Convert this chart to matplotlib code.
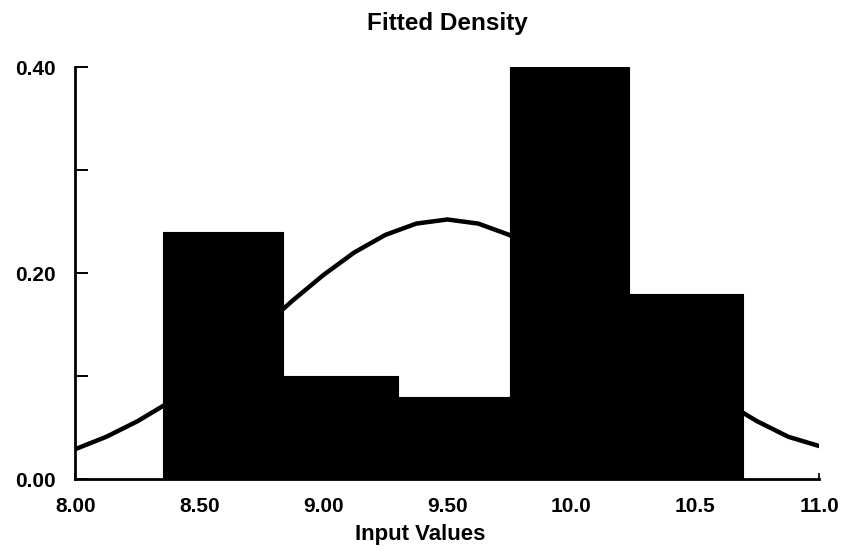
import numpy as np
import matplotlib.pyplot as plt

plt.rcParams['font.family'] = ['Liberation Sans', 'DejaVu Sans']
plt.rcParams['font.weight'] = 'bold'

# histogram bin edges and relative frequencies
bin_edges = [8.352, 8.836, 9.302, 9.753, 10.234, 10.694]
freq = [0.24, 0.10, 0.08, 0.40, 0.18]

# fitted density curve
curve_x = [8.0, 8.125, 8.25, 8.375, 8.5, 8.625, 8.75, 8.875, 9.0, 9.125, 9.25, 9.375,
           9.5, 9.625, 9.75, 9.875, 10.0, 10.125, 10.25, 10.375, 10.5, 10.625, 10.75, 10.875, 11.0]
curve_y = [0.029, 0.041, 0.056, 0.074, 0.096, 0.120, 0.146, 0.173, 0.198, 0.220, 0.237, 0.248,
           0.252, 0.248, 0.237, 0.220, 0.198, 0.173, 0.146, 0.120, 0.096, 0.074, 0.056, 0.041, 0.032]

xticks = [8.0, 8.5, 9.0, 9.5, 10.0, 10.5, 11.0]
xtick_labels = ['8.00', '8.50', '9.00', '9.50', '10.0', '10.5', '11.0']
yticks = [0.0, 0.2, 0.4]
ytick_labels = ['0.00', '0.20', '0.40']

fig = plt.figure(figsize=(8.47, 5.55), dpi=100)
ax = fig.add_axes([0.0889, 0.1369, 0.8784, 0.7423])

ax.plot(curve_x, curve_y, color='black', lw=3.2, zorder=1, solid_capstyle='round')

lefts = bin_edges[:-1]
widths = np.diff(bin_edges)
ax.bar(lefts, freq, width=widths, align='edge', color='black', edgecolor='black', lw=0.8, zorder=2)

ax.set_xlim(8.0, 11.0)
ax.set_ylim(0, 0.40)
ax.set_xticks(xticks)
ax.set_xticklabels(xtick_labels)
ax.set_yticks(yticks)
ax.set_yticklabels(ytick_labels)
ax.set_yticks([0.1, 0.3], minor=True)

for s in ['top', 'right']:
    ax.spines[s].set_visible(False)
for s in ['left', 'bottom']:
    ax.spines[s].set_linewidth(2)
    ax.spines[s].set_zorder(3)

ax.tick_params(axis='y', which='both', direction='in', length=9, width=1.4, pad=14, labelsize=15)
ax.tick_params(axis='x', direction='in', length=4, width=1.2, pad=13, labelsize=15)
for lab in ax.get_xticklabels() + ax.get_yticklabels():
    lab.set_fontweight('bold')

ax.set_xlabel('Input Values', fontsize=16, fontweight='bold', labelpad=6, x=0.463)
ax.set_title('Fitted Density', fontsize=17.5, fontweight='bold', pad=27)

fig.savefig('out.png', dpi=100)
